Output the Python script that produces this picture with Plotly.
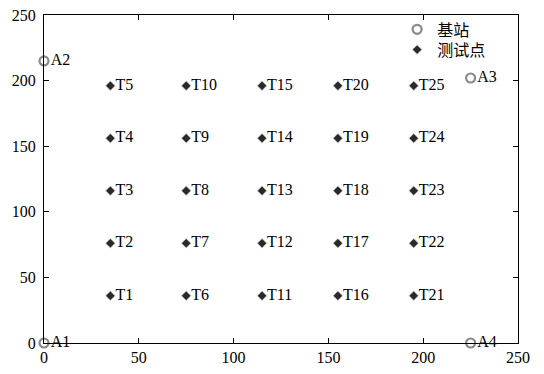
import plotly.graph_objects as go

# Anchor (base station) positions
anchor_names = ["A1", "A2", "A3", "A4"]
anchor_x = [0, 0, 225, 225]
anchor_y = [0, 215, 202, 0]

# Test point grid
test_names = [f"T{i}" for i in range(1, 26)]
col_x = [35, 75, 115, 155, 195]
row_y = [36, 76, 116, 156, 196]
test_x = [col_x[(i - 1) // 5] for i in range(1, 26)]
test_y = [row_y[(i - 1) % 5] for i in range(1, 26)]

ticks = [0, 50, 100, 150, 200, 250]

FONT = "Liberation Serif, Noto Sans CJK SC, serif"

fig = go.Figure()

fig.add_trace(go.Scatter(
    x=anchor_x, y=anchor_y, mode="markers+text", name="基站",
    text=anchor_names, textposition="middle right",
    textfont=dict(family=FONT, size=16, color="black"),
    marker=dict(symbol="circle-open", size=9, color="#8a8a8a",
                line=dict(width=2.2, color="#8a8a8a")),
    cliponaxis=False, legend="legend",
))

fig.add_trace(go.Scatter(
    x=test_x, y=test_y, mode="markers+text", name="测试点",
    text=test_names, textposition="middle right",
    textfont=dict(family=FONT, size=16, color="black"),
    marker=dict(symbol="diamond", size=6.5, color="#2a2a2a",
                line=dict(width=1.5, color="rgba(0,0,0,0.22)")),
    cliponaxis=False, legend="legend2",
))

axis_common = dict(
    range=[0, 250], tickvals=ticks, ticks="inside", ticklen=5,
    tickcolor="black", showline=True, linecolor="black", linewidth=1,
    mirror="ticks", showgrid=False, zeroline=False, automargin=False,
    tickfont=dict(family=FONT, size=16, color="black"),
)

legend_common = dict(
    xanchor="left", yanchor="top", bgcolor="rgba(0,0,0,0)", borderwidth=0,
    font=dict(family=FONT, size=16, color="black"), itemwidth=30,
)

fig.update_layout(
    width=544, height=374,
    margin=dict(l=44, r=26, t=12, b=31),
    paper_bgcolor="white", plot_bgcolor="white",
    xaxis=dict(**axis_common),
    yaxis=dict(**axis_common, ticklabelstandoff=4),
    showlegend=True,
    legend=dict(x=0.745, y=1.008, **legend_common),
    legend2=dict(x=0.745, y=0.946, **legend_common),
)

fig.write_html(
    "out.html",
    config={"displayModeBar": False},
    post_script="document.body.style.margin='0';document.body.style.overflow='hidden';",
)
